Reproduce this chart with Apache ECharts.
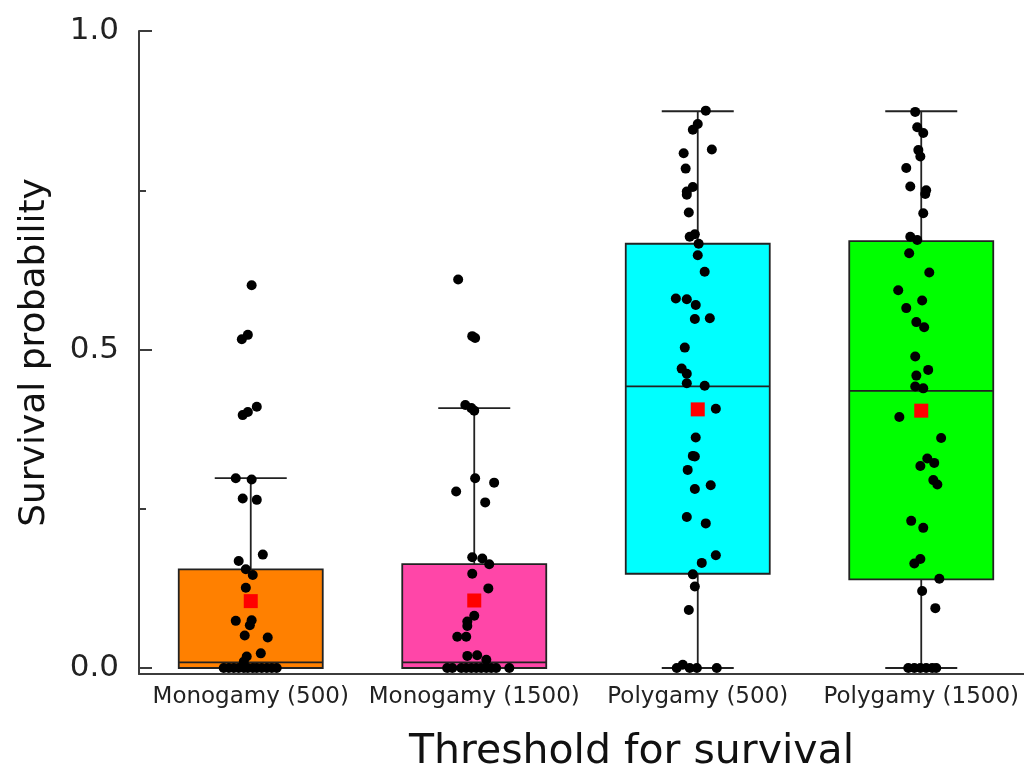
<!DOCTYPE html>
<html>
<head>
<meta charset="utf-8">
<script src="https://cdn.jsdelivr.net/npm/echarts@6/dist/echarts.min.js"></script>
<style>
    html, body { margin: 0; padding: 0; background: #fff; }
    #main { width: 1024px; height: 773px; }
</style>
</head>
<body>
<div id="main"></div>
<script>
    // categories + box colours
    var categories = ['Monogamy (500)', 'Monogamy (1500)', 'Polygamy (500)', 'Polygamy (1500)'];
    var boxColors  = ['#ff8000', '#ff46a8', '#00ffff', '#00ff00'];

    // box statistics
    var whiskerLow  = [0, 0, 0, 0];
    var boxQ1       = [0, 0, 0.148, 0.139];
    var boxMedian   = [0.009, 0.009, 0.442, 0.435];
    var boxQ3       = [0.155, 0.163, 0.666, 0.670];
    var whiskerHigh = [0.298, 0.408, 0.874, 0.874];
    var means       = [0.105, 0.106, 0.406, 0.404];

    // raw points, jitter is a fraction of one category band
    var mono500Values = [0.601, 0.523, 0.516, 0.410, 0.402, 0.397, 0.298, 0.296, 0.266, 0.264, 0.178, 0.168,
        0.155, 0.146, 0.126, 0.075, 0.074, 0.067, 0.051, 0.048, 0.023, 0.018, 0.010,
        0, 0, 0, 0, 0, 0, 0, 0, 0, 0, 0, 0];
    var mono500Jitter = [0.004, -0.013, -0.040, 0.027, -0.013, -0.036, -0.067, 0.004, -0.036, 0.027, 0.054, -0.054,
        -0.022, 0.009, -0.022, 0.004, -0.067, -0.004, -0.027, 0.076, 0.045, -0.018, -0.031,
        -0.121, -0.098, -0.076, -0.054, -0.031, -0.013, 0.009, 0.027, 0.049, 0.072, 0.094, 0.116];

    var mono1500Values = [0.610, 0.521, 0.518, 0.413, 0.408, 0.404, 0.298, 0.291, 0.277, 0.260, 0.174, 0.172,
        0.163, 0.148, 0.125, 0.082, 0.073, 0.066, 0.049, 0.049, 0.020, 0.019, 0.013,
        0, 0, 0, 0, 0, 0, 0, 0, 0, 0, 0];
    var mono1500Jitter = [-0.072, -0.009, 0.004, -0.040, -0.013, 0.000, 0.004, 0.089, -0.081, 0.049, -0.009, 0.036,
        0.067, -0.009, 0.063, 0.000, -0.031, -0.031, -0.076, -0.036, 0.013, -0.031, 0.054,
        -0.121, -0.098, -0.058, -0.036, -0.013, 0.009, 0.031, 0.054, 0.076, 0.098, 0.157];

    var poly500Values = [0.875, 0.854, 0.845, 0.814, 0.808, 0.784, 0.755, 0.748, 0.743, 0.715, 0.681, 0.677,
        0.666, 0.648, 0.622, 0.580, 0.579, 0.570, 0.549, 0.548, 0.503, 0.470, 0.462, 0.447,
        0.443, 0.407, 0.362, 0.333, 0.332, 0.311, 0.287, 0.281, 0.237, 0.227, 0.177, 0.165,
        0.147, 0.128, 0.091, 0, 0.005, 0, 0, 0];
    var poly500Jitter = [0.036, 0.000, -0.022, 0.063, -0.063, -0.054, -0.022, -0.049, -0.049, -0.040, -0.013, -0.036,
        0.004, 0.000, 0.031, -0.098, -0.049, -0.009, 0.054, -0.013, -0.058, -0.072, -0.049, -0.049,
        0.031, 0.081, -0.009, -0.022, -0.013, -0.045, 0.058, -0.013, -0.049, 0.036, 0.081, 0.018,
        -0.022, -0.013, -0.040, -0.094, -0.067, -0.036, -0.004, 0.085];

    var poly1500Values = [0.873, 0.849, 0.840, 0.813, 0.803, 0.785, 0.756, 0.750, 0.744, 0.714, 0.677, 0.672,
        0.651, 0.621, 0.593, 0.577, 0.565, 0.543, 0.535, 0.489, 0.468, 0.459, 0.442, 0.439,
        0.394, 0.361, 0.329, 0.322, 0.317, 0.295, 0.288, 0.231, 0.220, 0.171, 0.164, 0.140,
        0.121, 0.094, 0, 0, 0, 0, 0, 0];
    var poly1500Jitter = [-0.027, -0.018, 0.009, -0.013, -0.004, -0.067, -0.049, 0.022, 0.018, 0.009, -0.049, -0.018,
        -0.054, 0.036, -0.103, 0.004, -0.067, -0.022, 0.013, -0.027, 0.031, -0.022, -0.027, 0.009,
        -0.098, 0.089, 0.027, 0.058, -0.004, 0.054, 0.072, -0.045, 0.009, -0.004, -0.031, 0.081,
        0.004, 0.063, -0.058, -0.031, -0.004, 0.022, 0.049, 0.067];

    // y scale: the x axis line sits slightly below 0
    var Y_MIN = -0.0094;
    var majorTicks = [0, 0.5, 1];
    var minorTicks = [0.25, 0.75];

    var FONT = 'DejaVu Sans';
    var AXIS_COLOR = '#3c3c3c';

    var groupValues = [mono500Values, mono1500Values, poly500Values, poly1500Values];
    var groupJitter = [mono500Jitter, mono1500Jitter, poly500Jitter, poly1500Jitter];

    var points = [];
    groupValues.forEach(function (vals, i) {
        vals.forEach(function (v, k) {
            points.push([i + groupJitter[i][k], v]);
        });
    });

    var boxData = categories.map(function (c, i) {
        return {
            value: [boxQ1[i], boxQ1[i], boxMedian[i], boxQ3[i], boxQ3[i]],
            itemStyle: { color: boxColors[i] }
        };
    });
    var whiskerData = categories.map(function (c, i) {
        return [whiskerLow[i], boxMedian[i], boxMedian[i], boxMedian[i], whiskerHigh[i]];
    });
    var meanData = categories.map(function (c, i) {
        return [c, means[i]];
    });

    var chart = echarts.init(document.getElementById('main'));

    var option = {
        animation: false,
        backgroundColor: '#fff',
        grid: { left: 139, top: 31, bottom: 99, width: 894, containLabel: false, outerBoundsMode: 'none' },
        xAxis: [{
            type: 'category',
            data: categories,
            axisLine: { onZero: false, lineStyle: { color: AXIS_COLOR, width: 2 } },
            axisTick: { show: false },
            axisLabel: { interval: 0, margin: 12, fontFamily: FONT, fontSize: 23, color: '#222' },
            splitLine: { show: false },
            name: 'Threshold for survival',
            nameLocation: 'middle',
            nameGap: 58,
            nameTextStyle: { fontFamily: FONT, fontSize: 41, color: '#111', padding: [0, 0, 0, 91] }
        }, {
            // hidden value axis, same span as the categories, used for jittered points
            type: 'value', min: -0.5, max: 3.5, show: false
        }, {
            // hidden copy of the category axis for the whiskers
            type: 'category', data: categories, show: false
        }],
        yAxis: [{
            type: 'value',
            min: Y_MIN,
            max: 1,
            name: 'Survival probability',
            nameLocation: 'middle',
            nameRotate: 90,
            nameGap: 86,
            nameTextStyle: { fontFamily: FONT, fontSize: 36, color: '#111' },
            axisLine: { show: true, onZero: false, lineStyle: { color: AXIS_COLOR, width: 2 } },
            axisTick: { show: true, inside: true, length: 13, customValues: majorTicks,
                lineStyle: { color: AXIS_COLOR, width: 2 } },
            axisLabel: { customValues: majorTicks, margin: 20, fontFamily: FONT, fontSize: 31, color: '#222',
                formatter: function (v) { return v.toFixed(1); } },
            splitLine: { show: false }
        }, {
            type: 'value',
            min: Y_MIN,
            max: 1,
            position: 'left',
            axisLine: { show: false, onZero: false },
            axisTick: { show: true, inside: true, length: 7, customValues: minorTicks,
                lineStyle: { color: AXIS_COLOR, width: 2 } },
            axisLabel: { show: false },
            splitLine: { show: false }
        }],
        series: [{
            name: 'whiskers',
            type: 'boxplot',
            xAxisIndex: 2,
            boxWidth: [72, 72],
            data: whiskerData,
            itemStyle: { color: '#fff', borderColor: '#222', borderWidth: 1.8 },
            silent: true
        }, {
            name: 'boxes',
            type: 'boxplot',
            xAxisIndex: 0,
            boxWidth: [144, 144],
            data: boxData,
            itemStyle: { borderColor: '#222', borderWidth: 1.8 },
            silent: true
        }, {
            name: 'points',
            type: 'scatter',
            xAxisIndex: 1,
            symbol: 'circle',
            symbolSize: 10,
            itemStyle: { color: '#000', opacity: 1 },
            data: points
        }, {
            name: 'mean',
            type: 'scatter',
            xAxisIndex: 0,
            symbol: 'rect',
            symbolSize: 14,
            itemStyle: { color: '#ff0000', opacity: 1 },
            data: meanData
        }]
    };

    chart.setOption(option);
</script>
</body>
</html>
